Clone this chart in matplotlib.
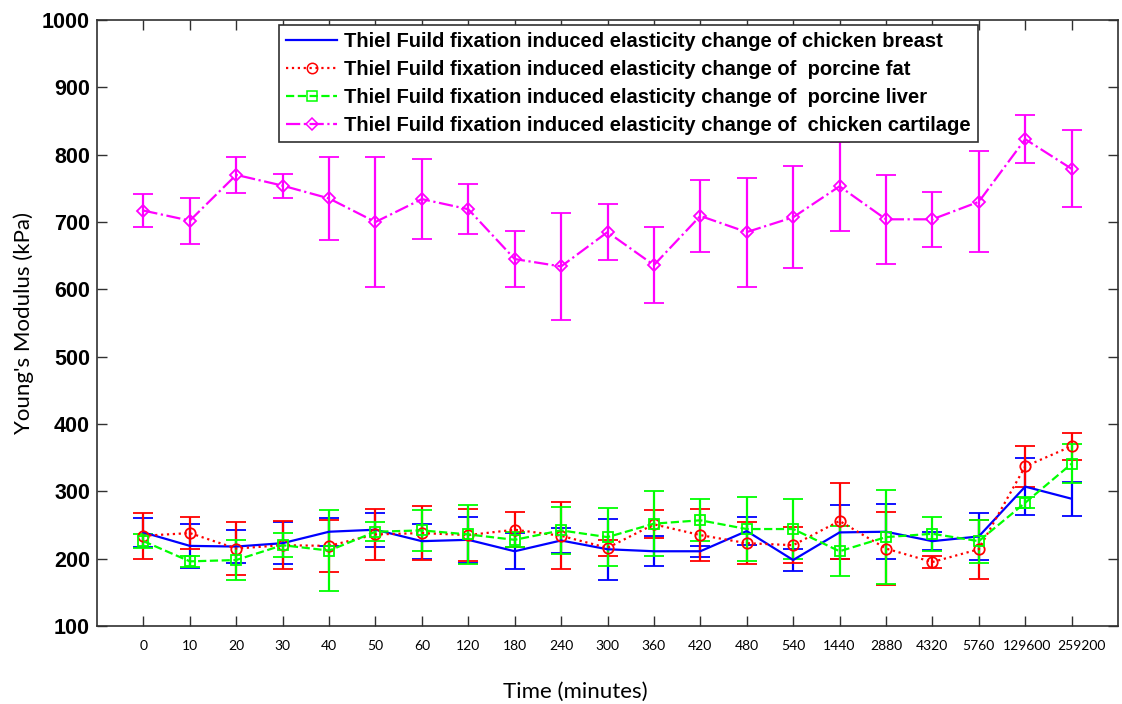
import matplotlib
matplotlib.use("Agg")
import matplotlib.pyplot as plt
import matplotlib.transforms as mtransforms
from matplotlib.lines import Line2D
import numpy as np

time_labels = ["0", "10", "20", "30", "40", "50", "60", "120", "180", "240", "300",
               "360", "420", "480", "540", "1440", "2880", "4320", "5760", "129600", "259200"]

breast = [239, 219, 218, 223, 240, 243, 226, 228, 211, 227, 214, 211, 211, 241, 198, 239, 240, 226, 233, 307, 289]
breast_err = [22, 33, 24, 31, 21, 25, 26, 34, 27, 19, 45, 22, 8, 21, 17, 40, 41, 13, 35, 42, 25]

fat = [234, 238, 215, 220, 219, 236, 238, 235, 243, 234, 216, 251, 235, 223, 220, 256, 215, 195, 214, 337, 367]
fat_err = [34, 24, 39, 36, 39, 38, 40, 39, 26, 50, 12, 21, 39, 31, 27, 56, 54, 9, 44, 30, 20]

liver = [226, 196, 198, 220, 212, 240, 242, 236, 228, 242, 232, 252, 257, 244, 244, 211, 232, 237, 226, 283, 341]
liver_err = [10, 8, 29, 18, 60, 14, 31, 44, 11, 35, 43, 48, 31, 47, 44, 37, 70, 25, 32, 8, 29]

cartilage = [717, 702, 770, 754, 735, 700, 734, 719, 645, 634, 685, 636, 709, 685, 707, 753, 704, 704, 730, 823, 779]
cartilage_err = [25, 34, 27, 18, 62, 96, 59, 37, 42, 80, 41, 56, 53, 81, 76, 66, 66, 41, 75, 36, 57]

legend_labels = [
    "Thiel Fuild fixation induced elasticity change of chicken breast",
    "Thiel Fuild fixation induced elasticity change of  porcine fat",
    "Thiel Fuild fixation induced elasticity change of  porcine liver",
    "Thiel Fuild fixation induced elasticity change of  chicken cartilage",
]

spine_col = "#303030"
fig = plt.figure(figsize=(11.22, 7.04), dpi=100)
ax = fig.add_axes([97/1122, 1 - 626/704, 1021/1122, 606/704])

x = np.arange(len(time_labels))
series = [
    (breast, breast_err, "#0000FF", "-", "None"),
    (fat, fat_err, "#FF0000", ":", "o"),
    (liver, liver_err, "#00FF00", "--", "s"),
    (cartilage, cartilage_err, "#FF00FF", "-.", "D"),
]
handles = []
for (vals, errs, col, ls, mk), lab in zip(series, legend_labels):
    ms = 6 if mk == "D" else 7.5
    ax.errorbar(x, vals, yerr=errs, color=col, ls=ls, lw=1.6, marker=mk,
                ms=ms, mfc="none", mec=col, mew=1.3, capsize=7, capthick=1.6,
                elinewidth=1.6)
    handles.append(Line2D([0], [0], color=col, ls=ls, lw=1.6, marker=mk,
                          ms=ms, mfc="none", mec=col, mew=1.1))

ax.set_xlim(-1, 21)
ax.set_ylim(100, 1000)
ax.set_yticks(np.arange(100, 1001, 100))
ax.set_xticks(x)
ax.set_xticklabels(time_labels, family="Lato", fontsize=10)
for t in ax.get_yticklabels():
    t.set_fontweight("bold")
    t.set_family("Liberation Sans")
    t.set_fontsize(15.5)
ax.tick_params(direction="in", top=True, right=True, length=7, width=1, color=spine_col)
ax.tick_params(axis="x", pad=10)
ax.tick_params(axis="y", pad=5)
for s in ax.spines.values():
    s.set_color(spine_col)
    s.set_linewidth(1.2)

# slight horizontal nudges of the crowded last labels, as in the original
xt = ax.get_xticklabels()
for idx, dx in [(19, 2), (20, 10)]:
    off = mtransforms.ScaledTranslation(dx / 100, 0, fig.dpi_scale_trans)
    xt[idx].set_transform(xt[idx].get_transform() + off)

ax.set_xlabel("Time (minutes)", family="Lato", fontsize=16)
ax.xaxis.set_label_coords((575 - 97) / 1021, -0.093)
ax.set_ylabel("Young's Modulus (kPa)", family="Lato", fontsize=16)
ax.yaxis.set_label_coords(-0.062, 0.5)

leg = ax.legend(handles=handles, labels=legend_labels, loc="upper left",
                bbox_to_anchor=((279 - 97) / 1021, (626 - 25) / 606),
                prop={"family": "Liberation Sans", "weight": "bold", "size": 14.5},
                frameon=True, fancybox=False, edgecolor=spine_col, framealpha=1,
                handlelength=2.55, borderpad=0.35, labelspacing=0.45, handletextpad=0.35,
                borderaxespad=0, numpoints=1)
leg.get_frame().set_linewidth(1.2)

fig.savefig("out.png", dpi=100)
